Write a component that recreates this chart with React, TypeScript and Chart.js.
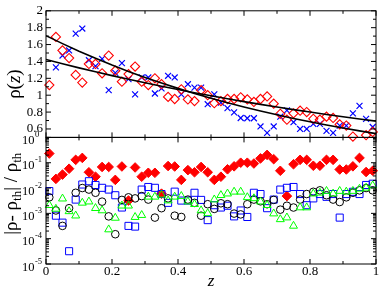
import React, { useEffect, useRef } from 'react';
import { Chart, registerables } from 'chart.js';

Chart.register(...registerables);

// ---------- data ----------
const Z_POINTS = [
  0.01, 0.03, 0.05, 0.07, 0.09, 0.11, 0.13, 0.15, 0.17, 0.19,
  0.21, 0.23, 0.25, 0.27, 0.29, 0.31, 0.33, 0.35, 0.37, 0.39,
  0.41, 0.43, 0.45, 0.47, 0.49, 0.51, 0.53, 0.55, 0.57, 0.59,
  0.61, 0.63, 0.65, 0.67, 0.69, 0.71, 0.73, 0.75, 0.77, 0.79,
  0.81, 0.83, 0.85, 0.87, 0.89, 0.91, 0.93, 0.95, 0.97, 0.99,
];

const RHO_RED = [
  1.12, 1.69, 1.53, 1.44, 1.24, 1.15, 1.37, 1.37, 1.26, 1.47,
  1.29, 1.16, 1.25, 1.34, 1.16, 1.12, 1.2, 1.13, 0.98, 0.955,
  1.07, 0.95, 0.93, 1.06, 1.0, 0.905, 0.93, 0.955, 0.955, 0.975,
  0.95, 0.92, 0.955, 0.985, 0.9, 0.78, 0.71, 0.785, 0.816, 0.8,
  0.72, 0.71, 0.746, 0.73, 0.654, 0.64, 0.51, null, 0.526, 0.565,
];

const RHO_BLUE = [
  null, 1.33, 1.47, 1.53, 1.73, 1.79, 1.415, 1.345, 1.43, 1.06,
  1.265, 1.38, 1.19, 1.01, 1.21, 1.21, 1.02, 1.08, 1.23, 1.21,
  1.01, 1.13, 1.09, 1.09, 0.893, 1.01, 0.913, 0.847, 0.797, 0.73,
  0.727, 0.727, 0.63, 0.554, 0.63, 0.746, 0.82, 0.68, 0.6, 0.6,
  0.66, 0.66, 0.577, 0.554, 0.64, 0.64, 0.785, 0.874, 0.72, 0.623,
];

const Z_CURVE = [
  0, 0.05, 0.1, 0.15, 0.2, 0.25, 0.3, 0.35, 0.4, 0.45, 0.5,
  0.55, 0.6, 0.65, 0.7, 0.75, 0.8, 0.85, 0.9, 0.95, 1,
];
const RHO_THEORY_A = [
  1.705, 1.611, 1.521, 1.437, 1.357, 1.282, 1.211, 1.144, 1.081, 1.021, 0.964,
  0.911, 0.86, 0.813, 0.768, 0.725, 0.685, 0.647, 0.611, 0.577, 0.545,
];
const RHO_THEORY_B = [
  1.423, 1.373, 1.324, 1.277, 1.232, 1.189, 1.147, 1.106, 1.067, 1.029, 0.993,
  0.958, 0.924, 0.891, 0.86, 0.829, 0.8, 0.772, 0.744, 0.718, 0.693,
];

const ERR_RED = [
  0.23, 0.023, 0.034, 0.058, 0.13, 0.155, 0.042, 0.028, 0.068, 0.068,
  0.021, 0.071, 0.0032, 0.065, 0.028, 0.04, 0.04, 0.006, 0.074, 0.071,
  0.021, 0.051, 0.042, 0.068, 0.042, 0.021, 0.028, 0.055, 0.072, 0.1,
  0.1, 0.093, 0.148, 0.204, 0.138, 0.048, 0.0048, 0.087, 0.13, 0.13,
  0.076, 0.076, 0.13, 0.13, 0.054, 0.054, 0.072, 0.155, 0.043, 0.048,
];
const ERR_BLACK = [
  0.0043, 0.0013, 0.00032, 0.0016, 0.0065, 0.01, 0.0087, 0.0065, 0.0029, 0.00076,
  0.00015, 0.0034, 0.0043, 0.0039, 0.0048, 0.0035, 0.00068, 0.0016, 0.0039, 0.00081,
  0.00072, 0.0035, 0.0026, 0.00081, 0.0023, 0.0015, 0.0025, 0.0023, 0.00098, 0.00091,
  0.0023, 0.0035, 0.003, 0.0023, 0.0034, 0.0014, 0.002, 0.0017, 0.0035, 0.0058,
  0.0071, 0.0081, 0.0052, 0.0035, 0.0028, 0.0043, 0.0065, 0.0081, 0.01, 0.0081,
];
const ERR_BLUE = [
  0.0076, 0.00081, 0.00043, 0.000032, 0.0035, 0.0138, 0.0186, 0.0132, 0.0102, 0.0087,
  0.0052, 0.0017, 0.00032, 0.0003, 0.0087, 0.011, 0.0102, 0.0058, 0.0026, 0.0072,
  0.0032, 0.0032, 0.0065, 0.0034, 0.00054, 0.0021, 0.0017, 0.002, 0.00076, 0.0013,
  0.00072, 0.0065, 0.0058, 0.0016, 0.0035, 0.0087, 0.0102, 0.011, 0.0058, 0.0021,
  0.0039, 0.0058, 0.0045, 0.0058, 0.00068, 0.0058, 0.0071, 0.0058, 0.0132, 0.0148,
];
const ERR_GREEN = [
  0.0021, 0.0015, 0.0038, 0.0012, 0.00081, 0.0026, 0.0029, 0.0016, 0.0013, 0.00023,
  0.00066, 0.002, 0.002, 0.00071, 0.00085, 0.0045, 0.0045, 0.0054, 0.0032, 0.0045,
  0.0048, 0.0029, 0.0023, 0.0013, 0.001, 0.0035, 0.0052, 0.006, 0.0071, 0.0071,
  0.0043, 0.0039, 0.0029, 0.0021, 0.00098, 0.00058, 0.00068, 0.00032, 0.0017, 0.0017,
  0.006, 0.0065, 0.0076, 0.006, 0.0076, 0.0071, 0.0076, 0.0093, 0.0102, 0.0126,
];

// ---------- ticks ----------
const X_TICKS = [0, 0.2, 0.4, 0.6, 0.8, 1];
const X_TICK_LABELS = ['0', '0.2', '0.4', '0.6', '0.8', '1'];
const X_MINOR = [0.1, 0.3, 0.5, 0.7, 0.9];
const RHO_TICKS = [0.6, 0.8, 1, 1.2, 1.4, 1.6, 1.8, 2];
const RHO_TICK_LABELS = ['0.6', '0.8', '1', '1.2', '1.4', '1.6', '1.8', '2'];
const RHO_MINOR = [0.5, 0.7, 0.9, 1.1, 1.3, 1.5, 1.7, 1.9];
const ERR_DECADES = [1, 0.1, 0.01, 0.001, 0.0001, 0.00001];
const ERR_EXPONENTS = ['0', '-1', '-2', '-3', '-4', '-5'];
const ERR_MINOR_MULT = [2, 3, 4, 5, 6, 7, 8, 9];

const SERIF = "'Liberation Serif', 'Times New Roman', serif";

const pairs = (xs: number[], ys: (number | null)[]) =>
  xs.map((x, i) => ({ x, y: ys[i] }));

type Part = { t: string; font: string; dy: number };

function drawRotated(ctx: CanvasRenderingContext2D, parts: Part[], cx: number, cy: number) {
  ctx.save();
  ctx.translate(cx, cy);
  ctx.rotate(-Math.PI / 2);
  let total = 0;
  const widths = parts.map((p) => {
    ctx.font = p.font;
    const w = ctx.measureText(p.t).width;
    total += w;
    return w;
  });
  let x = -total / 2;
  ctx.textBaseline = 'alphabetic';
  ctx.textAlign = 'left';
  ctx.fillStyle = '#000';
  parts.forEach((p, i) => {
    ctx.font = p.font;
    ctx.fillText(p.t, x, p.dy);
    x += widths[i];
  });
  ctx.restore();
}

const framePlugin = {
  id: 'xmgraceFrame',
  afterDraw(chart: any) {
    const ctx: CanvasRenderingContext2D = chart.ctx;
    const xs = chart.scales.x;
    const yr = chart.scales.yRho;
    const ye = chart.scales.yErr;
    const L = xs.left;
    const R = xs.right;
    const MAJ = 5;
    const MIN = 3;
    ctx.save();
    ctx.strokeStyle = '#000';
    ctx.lineWidth = 1;
    const line = (x1: number, y1: number, x2: number, y2: number) => {
      ctx.beginPath();
      ctx.moveTo(x1, y1);
      ctx.lineTo(x2, y2);
      ctx.stroke();
    };
    for (const s of [yr, ye]) {
      ctx.strokeRect(L, s.top, R - L, s.bottom - s.top);
      for (const v of X_TICKS) {
        const px = xs.getPixelForValue(v);
        line(px, s.top, px, s.top + MAJ);
        line(px, s.bottom, px, s.bottom - MAJ);
      }
      for (const v of X_MINOR) {
        const px = xs.getPixelForValue(v);
        line(px, s.top, px, s.top + MIN);
        line(px, s.bottom, px, s.bottom - MIN);
      }
    }
    for (const v of RHO_TICKS) {
      const py = yr.getPixelForValue(v);
      line(L, py, L + MAJ, py);
      line(R, py, R - MAJ, py);
    }
    for (const v of RHO_MINOR) {
      const py = yr.getPixelForValue(v);
      line(L, py, L + MIN, py);
      line(R, py, R - MIN, py);
    }
    ERR_DECADES.forEach((d, i) => {
      const py = ye.getPixelForValue(d);
      line(L, py, L + MAJ, py);
      line(R, py, R - MAJ, py);
      if (i < ERR_DECADES.length - 1) {
        for (const m of ERR_MINOR_MULT) {
          const pm = ye.getPixelForValue(d * m * 0.1);
          line(L, pm, L + MIN, pm);
          line(R, pm, R - MIN, pm);
        }
      }
    });
    // log labels 10^k
    ctx.fillStyle = '#000';
    ERR_DECADES.forEach((d, i) => {
      const py = ye.getPixelForValue(d);
      ctx.font = `12.5px ${SERIF}`;
      ctx.textAlign = 'right';
      ctx.textBaseline = 'alphabetic';
      ctx.fillText('10', 34.5, py + 6.5);
      ctx.font = `8.5px ${SERIF}`;
      ctx.textAlign = 'left';
      ctx.fillText(ERR_EXPONENTS[i], 35, py - 0.5);
    });
    // axis titles
    const f = `19px ${SERIF}`;
    const fi = `italic 19px ${SERIF}`;
    const fs = `13px ${SERIF}`;
    drawRotated(
      ctx,
      [
        { t: 'ρ(', font: f, dy: 0 },
        { t: 'z', font: fi, dy: 0 },
        { t: ')', font: f, dy: 0 },
      ],
      20,
      (yr.top + yr.bottom) / 2 + 10
    );
    drawRotated(
      ctx,
      [
        { t: '|ρ- ρ', font: f, dy: 0 },
        { t: 'th', font: fs, dy: 4 },
        { t: '| / ρ', font: f, dy: 0 },
        { t: 'th', font: fs, dy: 4 },
      ],
      17,
      (ye.top + ye.bottom) / 2 - 7
    );
    ctx.restore();
  },
};

export default function App() {
  const ref = useRef<HTMLCanvasElement | null>(null);
  useEffect(() => {
    if (!ref.current) return;
    const chart = new Chart(ref.current, {
      type: 'scatter',
      data: {
        datasets: [
          {
            label: 'theory A',
            data: pairs(Z_CURVE, RHO_THEORY_A),
            yAxisID: 'yRho',
            showLine: true,
            borderColor: '#000',
            borderWidth: 1.6,
            pointRadius: 0,
            tension: 0,
          },
          {
            label: 'theory B',
            data: pairs(Z_CURVE, RHO_THEORY_B),
            yAxisID: 'yRho',
            showLine: true,
            borderColor: '#000',
            borderWidth: 1.6,
            pointRadius: 0,
            tension: 0,
          },
          {
            label: 'rho red',
            data: pairs(Z_POINTS, RHO_RED),
            yAxisID: 'yRho',
            pointStyle: 'rectRot',
            pointRadius: 4.6,
            pointBorderColor: '#ff0000',
            pointBackgroundColor: 'rgba(0,0,0,0)',
            pointBorderWidth: 1.1,
            clip: 6,
          },
          {
            label: 'rho blue',
            data: pairs(Z_POINTS, RHO_BLUE),
            yAxisID: 'yRho',
            pointStyle: 'crossRot',
            pointRadius: 4.2,
            pointBorderColor: '#0000ff',
            pointBackgroundColor: 'rgba(0,0,0,0)',
            pointBorderWidth: 1.2,
            clip: 6,
          },
          {
            label: 'err green',
            data: pairs(Z_POINTS, ERR_GREEN),
            yAxisID: 'yErr',
            pointStyle: 'triangle',
            pointRadius: 4.6,
            pointBorderColor: '#00ff00',
            pointBackgroundColor: 'rgba(0,0,0,0)',
            pointBorderWidth: 1,
            clip: 6,
          },
          {
            label: 'err black',
            data: pairs(Z_POINTS, ERR_BLACK),
            yAxisID: 'yErr',
            pointStyle: 'circle',
            pointRadius: 3.8,
            pointBorderColor: '#000000',
            pointBackgroundColor: 'rgba(0,0,0,0)',
            pointBorderWidth: 1,
            clip: 6,
          },
          {
            label: 'err blue',
            data: pairs(Z_POINTS, ERR_BLUE),
            yAxisID: 'yErr',
            pointStyle: 'rect',
            pointRadius: 5,
            pointBorderColor: '#0000ff',
            pointBackgroundColor: 'rgba(0,0,0,0)',
            pointBorderWidth: 1,
            clip: 6,
          },
          {
            label: 'err red',
            data: pairs(Z_POINTS, ERR_RED),
            yAxisID: 'yErr',
            pointStyle: 'rectRot',
            pointRadius: 4.8,
            pointBorderColor: '#ff0000',
            pointBackgroundColor: '#ff0000',
            pointBorderWidth: 1,
            clip: 6,
          },
        ],
      },
      options: {
        animation: false,
        responsive: false,
        devicePixelRatio: 1,
        events: [],
        layout: { padding: { top: 4, right: 4, left: 0, bottom: 0 } },
        plugins: { legend: { display: false }, tooltip: { enabled: false } },
        scales: {
          x: {
            type: 'linear',
            position: 'bottom',
            min: 0,
            max: 1,
            grid: { display: false, drawTicks: false },
            border: { display: false },
            afterBuildTicks: (s: any) => {
              s.ticks = X_TICKS.map((v) => ({ value: v }));
            },
            afterFit: (s: any) => {
              s.height = 25;
            },
            ticks: {
              autoSkip: false,
              maxRotation: 0,
              padding: 0,
              color: '#000',
              font: { family: SERIF, size: 13 },
              callback: (_v: any, i: number) => X_TICK_LABELS[i],
            },
            title: {
              display: true,
              text: 'z',
              color: '#000',
              padding: { top: 0, bottom: 0 },
              font: { family: SERIF, size: 17, style: 'italic', lineHeight: 0.9 },
            },
          },
          yRho: {
            type: 'linear',
            position: 'left',
            stack: 'panels',
            stackWeight: 1,
            weight: 2,
            min: 0.5,
            max: 2,
            grid: { display: false, drawTicks: false },
            border: { display: false },
            afterBuildTicks: (s: any) => {
              s.ticks = RHO_TICKS.map((v) => ({ value: v }));
            },
            afterFit: (s: any) => {
              s.width = 46;
            },
            ticks: {
              autoSkip: false,
              padding: 3,
              color: '#000',
              font: { family: SERIF, size: 13 },
              callback: (_v: any, i: number) => RHO_TICK_LABELS[i],
            },
          },
          yErr: {
            type: 'logarithmic',
            position: 'left',
            stack: 'panels',
            stackWeight: 1,
            weight: 1,
            min: 0.00001,
            max: 1,
            grid: { display: false, drawTicks: false },
            border: { display: false },
            afterBuildTicks: (s: any) => {
              s.ticks = ERR_DECADES.map((v) => ({ value: v }));
            },
            afterFit: (s: any) => {
              s.width = 46;
            },
            ticks: { display: false },
          },
        },
      } as any,
      plugins: [framePlugin],
    });
    return () => chart.destroy();
  }, []);
  return (
    <div style={{ position: 'absolute', left: 0, top: 0, width: 382, height: 289, background: '#fff' }}>
      <canvas ref={ref} width={382} height={289} style={{ display: 'block' }} />
    </div>
  );
}
